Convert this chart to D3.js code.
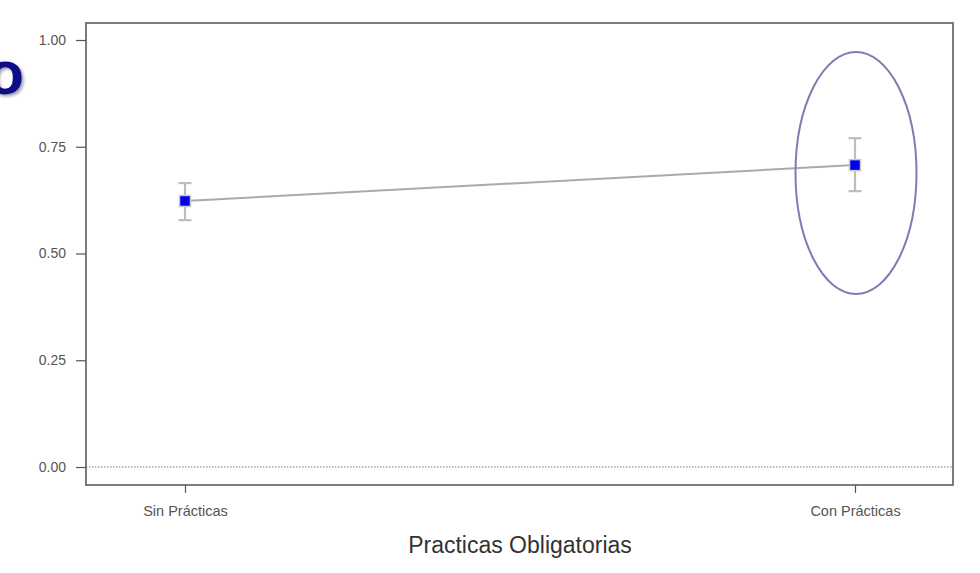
<!DOCTYPE html>
<html>
<head>
<meta charset="utf-8">
<script src="https://cdn.jsdelivr.net/npm/d3@7"></script>
<style>
  html, body { margin: 0; padding: 0; background: #fff; }
  svg { display: block; }
</style>
</head>
<body>
<svg id="chart" width="980" height="573"></svg>
<script>
const categories = ["Sin Prácticas", "Con Prácticas"];
const means = [0.623, 0.707];
const lower = [0.578, 0.646];
const upper = [0.665, 0.770];
const yTicks = [0, 0.25, 0.5, 0.75, 1.0];
const xTitle = "Practicas Obligatorias";
const sideLetter = "o";

const svg = d3.select("#chart");
const box = {left: 86, right: 953, top: 23, bottom: 485};
const FONT = "Arial, 'Liberation Sans', sans-serif";

const x = d3.scalePoint().domain(categories).range([185, 855]);
const y = d3.scaleLinear().domain([0, 1]).range([467, 40]);

// drop shadow filter for the partial title letter
const defs = svg.append("defs");
const f = defs.append("filter").attr("id", "shadow").attr("x", "-50%").attr("y", "-50%").attr("width", "200%").attr("height", "200%");
f.append("feDropShadow").attr("dx", 2).attr("dy", 2).attr("stdDeviation", 1.5)
  .attr("flood-color", "#7a7a9a").attr("flood-opacity", 0.7);

// partial title letter at left edge (cut off, as in reference)
svg.append("text")
  .attr("x", 24).attr("y", 94)
  .attr("text-anchor", "end")
  .attr("font-family", FONT)
  .attr("font-size", 62)
  .attr("font-weight", "bold")
  .attr("fill", "#0d0d85")
  .attr("filter", "url(#shadow)")
  .text(sideLetter);

// plot box
svg.append("rect")
  .attr("x", box.left).attr("y", box.top)
  .attr("width", box.right - box.left).attr("height", box.bottom - box.top)
  .attr("fill", "none").attr("stroke", "#6e6e6e").attr("stroke-width", 1.8);

// y axis
const yAxis = d3.axisLeft(y).tickValues(yTicks).tickFormat(d3.format(".2f")).tickSize(10).tickPadding(10);
const gy = svg.append("g").attr("transform", `translate(${box.left},0)`).call(yAxis);
gy.select(".domain").remove();
gy.selectAll(".tick line").attr("stroke", "#555").attr("stroke-width", 1.2);
gy.selectAll(".tick text").attr("fill", "#555").attr("font-size", 14)
  .attr("font-family", FONT);

// x axis
const xAxis = d3.axisBottom(x).tickSize(8).tickPadding(13);
const gx = svg.append("g").attr("transform", `translate(0,${box.bottom})`).call(xAxis);
gx.select(".domain").remove();
gx.selectAll(".tick line").attr("stroke", "#555").attr("stroke-width", 1.2);
gx.selectAll(".tick text").attr("fill", "#555").attr("font-size", 14.5)
  .attr("font-family", FONT);

// axis title
svg.append("text")
  .attr("x", 520).attr("y", 553)
  .attr("text-anchor", "middle")
  .attr("font-family", FONT)
  .attr("font-size", 23)
  .attr("fill", "#333")
  .text(xTitle);

// zero reference line
svg.append("line")
  .attr("x1", box.left).attr("x2", box.right)
  .attr("y1", y(0)).attr("y2", y(0))
  .attr("stroke", "#777").attr("stroke-width", 1)
  .attr("stroke-dasharray", "1.5,1.5");

const data = categories.map((c, i) => ({c, m: means[i], lo: lower[i], hi: upper[i]}));

// connecting line
svg.append("path")
  .datum(data)
  .attr("d", d3.line().x(d => x(d.c)).y(d => y(d.m)))
  .attr("fill", "none").attr("stroke", "#aaa").attr("stroke-width", 2);

// error bars
const eb = svg.append("g").attr("stroke", "#bdbdbd").attr("stroke-width", 2.2);
data.forEach(d => {
  eb.append("line").attr("x1", x(d.c)).attr("x2", x(d.c)).attr("y1", y(d.lo)).attr("y2", y(d.hi));
  eb.append("line").attr("x1", x(d.c) - 6.5).attr("x2", x(d.c) + 6.5).attr("y1", y(d.lo)).attr("y2", y(d.lo));
  eb.append("line").attr("x1", x(d.c) - 6.5).attr("x2", x(d.c) + 6.5).attr("y1", y(d.hi)).attr("y2", y(d.hi));
});

// markers
svg.selectAll("rect.pt").data(data).enter().append("rect")
  .attr("class", "pt")
  .attr("x", d => x(d.c) - 5.5).attr("y", d => y(d.m) - 5.5)
  .attr("width", 11).attr("height", 11)
  .attr("fill", "#0000f0").attr("stroke", "#c8c8c8").attr("stroke-width", 1.5);

// highlight ellipse around second category
svg.append("ellipse")
  .attr("cx", x(categories[1]) + 1).attr("cy", 173)
  .attr("rx", 60.5).attr("ry", 121)
  .attr("fill", "none").attr("stroke", "#7b7db3").attr("stroke-width", 2);
</script>
</body>
</html>
